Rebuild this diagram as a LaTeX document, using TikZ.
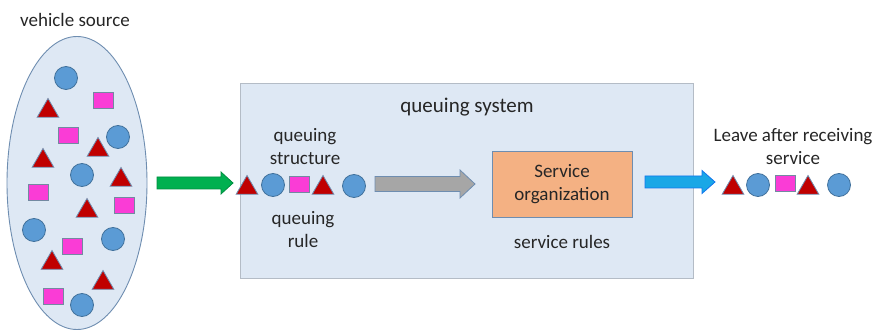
\documentclass[tikz,border=0pt]{standalone}
\usepackage{fontspec}
\setmainfont{Carlito}
\usetikzlibrary{shapes.geometric}
\definecolor{panel}{HTML}{DEE8F4}
\definecolor{panelline}{HTML}{B4BCC6}
\definecolor{rimblue}{HTML}{6E8DB0}
\definecolor{dotblue}{HTML}{5B9BD5}
\definecolor{dotline}{HTML}{41719C}
\definecolor{trired}{HTML}{C00000}
\definecolor{sqmag}{HTML}{FA3CD6}
\definecolor{orgfill}{HTML}{F4B183}
\definecolor{ingreen}{HTML}{00B050}
\definecolor{outblue}{HTML}{1AA7E6}
\definecolor{midgray}{HTML}{A6A6A6}
\definecolor{txt}{HTML}{262626}
\tikzset{
  every node/.style={text=txt},
  lbl/.style={font=\fontsize{19}{23}\selectfont, align=center, inner sep=0pt},
  dot/.style={circle, fill=dotblue, draw=dotline, line width=0.8pt, minimum size=23pt, inner sep=0pt},
  tri/.style={regular polygon, regular polygon sides=3, fill=trired, draw=rimblue, line width=0.8pt, minimum size=25pt, inner sep=0pt, yshift=-3pt},
  sq/.style={rectangle, fill=sqmag, draw=rimblue!70!gray, line width=0.8pt, minimum width=20pt, minimum height=16pt, inner sep=0pt},
  blockarrow/.style={line width=0.8pt, line join=miter}
}
% block arrow: from x=#1 to tip x=#2 at height #3, shaft half-height #4,
% head half-height #5, head length #6, style #7
\newcommand\blockarr[7]{%
  \draw[blockarrow,#7] ({#1},{#3-#4}) -- ({#2-#6},{#3-#4}) -- ({#2-#6},{#3-#5})
    -- ({#2},{#3}) -- ({#2-#6},{#3+#5}) -- ({#2-#6},{#3+#4}) -- ({#1},{#3+#4}) -- cycle;}
\begin{document}
\begin{tikzpicture}[x=1pt,y=-1pt]
\useasboundingbox (0,0) rectangle (878,331);

% vehicle source
\node[lbl] (srclbl) at (75,20) {vehicle source};
\node[ellipse, fill=panel, draw=rimblue, line width=0.9pt, minimum width=140pt, minimum height=293pt] (src) at (77,183) {};

\node[dot] (s1) at (66,78) {};
\node[sq]  (s2) at (103,100) {};
\node[tri] (s3) at (48,108) {};
\node[sq]  (s4) at (68,135) {};
\node[dot] (s5) at (118,137) {};
\node[tri] (s6) at (98,147) {};
\node[tri] (s7) at (43,158) {};
\node[dot] (s8) at (82,175) {};
\node[tri] (s9) at (121,177) {};
\node[sq]  (s10) at (38,192) {};
\node[tri] (s11) at (87,208) {};
\node[sq]  (s12) at (124,205) {};
\node[dot] (s13) at (34,230) {};
\node[dot] (s14) at (113,239) {};
\node[sq]  (s15) at (72,246) {};
\node[tri] (s16) at (52,260) {};
\node[tri] (s17) at (103,280) {};
\node[sq]  (s18) at (53,296) {};
\node[dot] (s19) at (82,305) {};

% queuing system panel
\node[rectangle, fill=panel, draw=panelline, line width=0.9pt, minimum width=453pt, minimum height=195pt, inner sep=0pt, anchor=north west] (sys) at (240,83) {};
\node[lbl, font=\fontsize{21}{25}\selectfont] (syslbl) at (467,107) {queuing system};
\node[lbl] (qstruct) at (305,146.5) {queuing\\structure};
\node[lbl] (qrule) at (303,229.5) {queuing\\rule};

% incoming arrow
\blockarr{157}{233}{183}{6}{11}{12}{fill=ingreen, draw=ingreen!80!black}

% waiting line
\node[tri] (q1) at (247,185) {};
\node[dot] (q2) at (273,185) {};
\node[sq]  (q3) at (299,184) {};
\node[tri] (q4) at (323,185) {};
\node[dot] (q5) at (354,186) {};

% arrow to the service desk
\blockarr{375}{475}{184}{7.5}{14}{15}{fill=midgray, draw=rimblue}

% service organization
\node[rectangle, fill=orgfill, draw=rimblue, line width=0.9pt, minimum width=140pt, minimum height=66pt, inner sep=0pt, lbl] (org) at (562,184) {Service\\organization};
\node[lbl] (srules) at (562,242) {service rules};

% outgoing arrow
\blockarr{645}{715}{182}{6}{11.5}{13}{fill=outblue, draw=outblue!70!blue}

% departing vehicles
\node[lbl] (leave) at (793,146.5) {Leave after receiving\\service};
\node[tri] (o1) at (733,185) {};
\node[dot] (o2) at (758,185) {};
\node[sq]  (o3) at (785,183) {};
\node[tri] (o4) at (808,185) {};
\node[dot] (o5) at (839,185) {};
\end{tikzpicture}
\end{document}
